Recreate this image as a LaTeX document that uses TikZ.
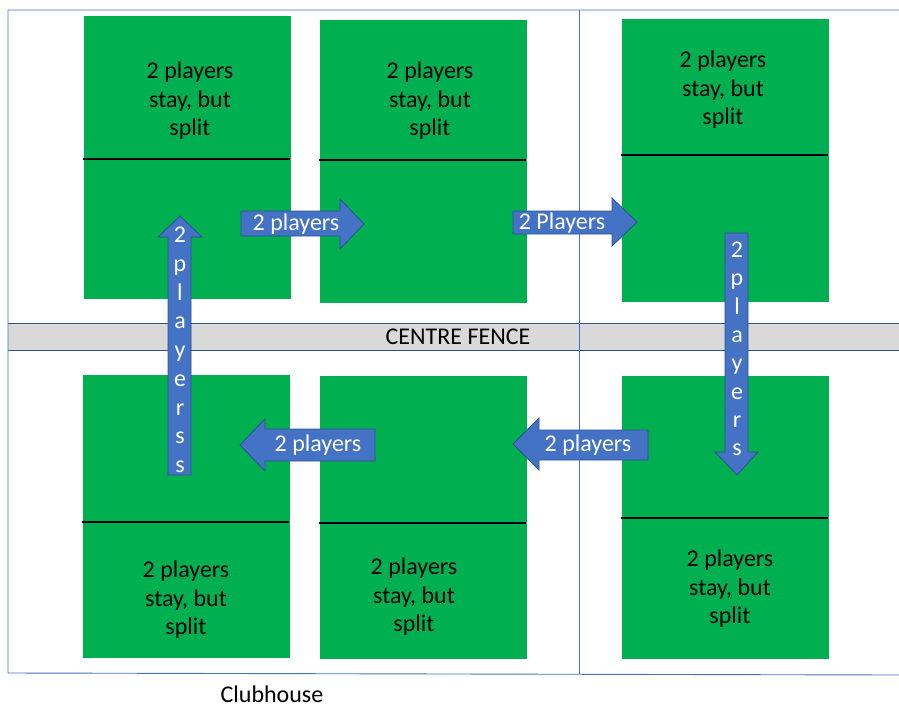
\documentclass[tikz,border=0pt]{standalone}
\usepackage{fontspec}
\setmainfont{Carlito}
\definecolor{pitchgreen}{HTML}{00B050}
\definecolor{moveblue}{HTML}{4472C4}
\definecolor{moveedge}{HTML}{2F528F}
\definecolor{fencegray}{HTML}{D9D9D9}

\begin{document}
\begin{tikzpicture}[
        x = 1pt, y = -1pt,
        pitch/.style = {fill = pitchgreen, draw = none},
        halfway/.style = {line width = 1.5pt},
        border/.style = {draw = moveblue, line width = 0.9pt},
        move/.style = {fill = moveblue, draw = moveedge, line width = 0.8pt},
        label/.style = {font = \fontsize{24}{28.5}\selectfont, align = center, inner sep = 0pt},
        tag/.style = {font = \fontsize{24}{28.5}\selectfont, text = white, inner sep = 0pt},
        letter/.style = {tag, text height = 16pt, text depth = 5pt}
    ]
        \useasboundingbox (0,0) rectangle (899,707);
        % centre fence
        \fill[fencegray] (8,323) rectangle (899,350);
        \draw[moveedge, line width = 0.8pt] (8,323) -- (899,323);
        \draw[moveedge, line width = 0.8pt] (8,350) -- (899,350);
        \node[label] (fence) at (458,337) {CENTRE FENCE};
        % outer frame and divider
        \draw[border] (899,10) -- (8,10) -- (8,673) -- (899,675);
        \draw[border] (579,10) -- (579,674);
        % pitches
        \foreach \bx/\by/\sy/\tx/\ty [count=\i] in {84/16/159/190/101, 320/20/160/430/101, 622/19/155/723/90,
                83/375/522/186/600, 320/376/523/414/597, 622/376/518/730/589} {
            \fill[pitch] (\bx,\by) rectangle ++(207,283);
            \draw[halfway] (\bx-1,\sy) -- ++(207,0);
            \node[label] (stay\i) at (\tx,\ty) {2 players\\stay, but\\split};
        }
        % moves between pitches
        \draw[move] (241,211) -- (340,211) -- (340,199) -- (364,224) -- (340,249) -- (340,236) -- (241,236) -- cycle;
        \node[tag] (moveA) at (296,224) {2 players};
        \draw[move] (513,211) -- (612,211) -- (612,198) -- (637,222) -- (612,246) -- (612,234) -- (513,234) -- cycle;
        \node[tag] (moveB) at (562,223) {2 Players};
        \draw[move] (725,233) -- (748,233) -- (748,452) -- (758,452) -- (737,475) -- (715,452) -- (725,452) -- cycle;
        \foreach \c [count=\k] in {2,p,l,a,y,e,r,s}
            \node[letter] (down\k) at (737,252+28.3*\k-28.3) {\c};
        \draw[move] (648,430) -- (539,430) -- (539,418) -- (513,444) -- (539,470) -- (539,460) -- (648,460) -- cycle;
        \node[tag] (moveC) at (588,445) {2 players};
        \draw[move] (375,429) -- (265,429) -- (265,419) -- (240,445) -- (265,471) -- (265,461) -- (375,461) -- cycle;
        \node[tag] (moveD) at (318,445) {2 players};
        \draw[move] (168,475) -- (168,237) -- (158,237) -- (180,216) -- (202,237) -- (191,237) -- (191,475) -- cycle;
        \foreach \c [count=\k] in {2,p,l,a,y,e,r,s,s}
            \node[letter] (up\k) at (180,237+28.75*\k-28.75) {\c};
        % clubhouse
        \node[label] (club) at (272,694) {Clubhouse};
    \end{tikzpicture}
\end{document}
